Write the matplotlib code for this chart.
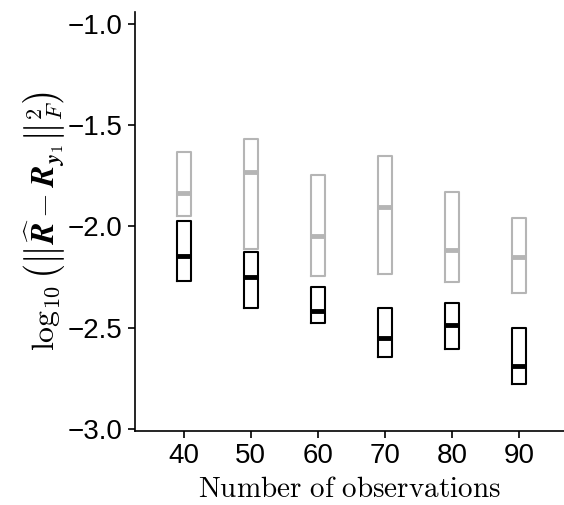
import matplotlib
matplotlib.use("Agg")
import matplotlib.pyplot as plt

# datos (q1, mediana, q3)
obs = [40, 50, 60, 70, 80, 90]

grey_q1 = [-1.950, -2.110, -2.243, -2.234, -2.272, -2.327]
grey_med = [-1.832, -1.731, -2.046, -1.906, -2.115, -2.150]
grey_q3 = [-1.632, -1.569, -1.744, -1.649, -1.830, -1.959]

black_q1 = [-2.271, -2.402, -2.479, -2.644, -2.606, -2.779]
black_med = [-2.144, -2.251, -2.419, -2.550, -2.489, -2.690]
black_q3 = [-1.972, -2.127, -2.297, -2.402, -2.380, -2.500]

yticks = [-3.0, -2.5, -2.0, -1.5, -1.0]

plt.rcParams['mathtext.fontset'] = 'cm'
plt.rcParams['font.family'] = ['Liberation Sans', 'DejaVu Sans']


def stats(q1, med, q3):
    return [dict(q1=a, med=m, q3=b, whislo=a, whishi=b, fliers=[])
            for a, m, b in zip(q1, med, q3)]


fig = plt.figure(figsize=(5.64, 5.05), dpi=100)
ax = fig.add_axes([0.239, 0.147, 0.761, 0.829])

for q1, med, q3, col in [(grey_q1, grey_med, grey_q3, '#b5b5b5'),
                         (black_q1, black_med, black_q3, 'black')]:
    ax.bxp(stats(q1, med, q3), positions=obs, widths=2.1,
           showcaps=False, showfliers=False, manage_ticks=False,
           boxprops=dict(color=col, linewidth=1.5),
           whiskerprops=dict(linewidth=0),
           medianprops=dict(color=col, linewidth=3.5, solid_capstyle='butt'))

ax.set_xlim(32.7, 96.7)
ax.set_ylim(-3.01, -0.94)
ax.set_xticks(obs)
ax.set_xticklabels([str(v) for v in obs])
ax.set_yticks(yticks)
ax.set_yticklabels([f'{v:.1f}'.replace('-', '\u2212') for v in yticks])
ax.tick_params(labelsize=20, length=5, width=1.2, direction='out', pad=4)

for s in ['top', 'right']:
    ax.spines[s].set_visible(False)
for s in ['left', 'bottom']:
    ax.spines[s].set_linewidth(1.2)

ax.set_xlabel(r'$\mathrm{Number\ of\ observations}$', fontsize=21, labelpad=4)
ax.set_ylabel(r'$\log_{10}\left(\left\|\widehat{\boldsymbol{R}} - \boldsymbol{R}_{\boldsymbol{y}_1}\right\|_F^2\right)$',
              fontsize=23, labelpad=0)

fig.savefig('out.png', dpi=100)
